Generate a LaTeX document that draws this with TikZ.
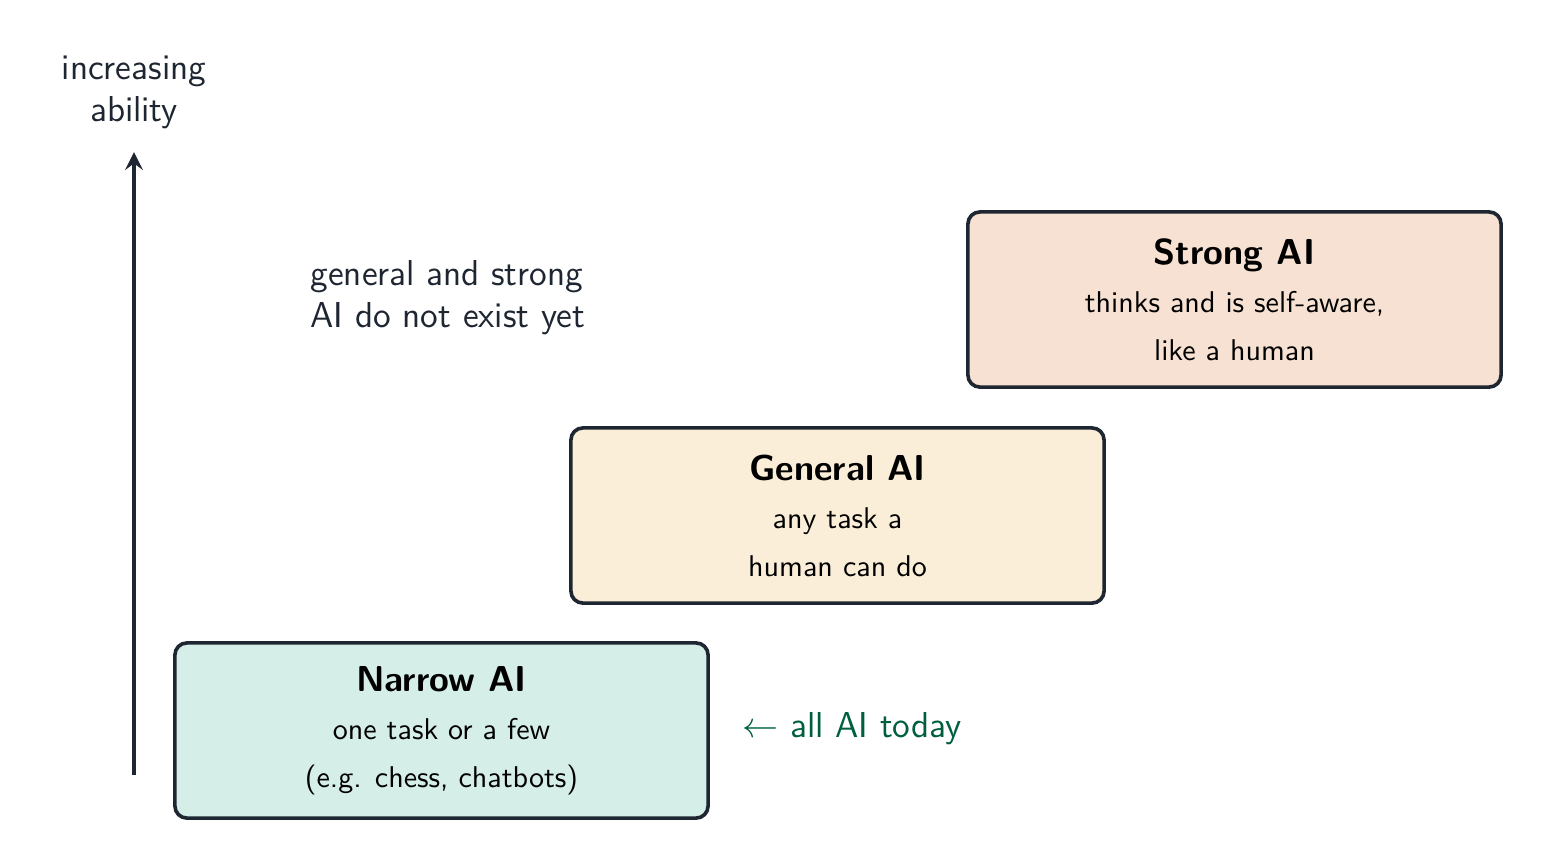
\documentclass[tikz,border=0pt]{standalone}
\usepackage{tikz}
\usetikzlibrary{arrows}
\renewcommand{\familydefault}{\sfdefault}
\definecolor{ink}{RGB}{30,38,50}
\definecolor{narrowfill}{RGB}{214,238,232}
\definecolor{generalfill}{RGB}{250,238,216}
\definecolor{strongfill}{RGB}{246,225,210}
\definecolor{todaygreen}{RGB}{0,95,65}
\tikzset{
  level/.style={draw=ink, line width=1.2pt, rounded corners=4pt, minimum width=6.24cm, minimum height=2.05cm, align=center, text=black},
  note/.style={text=ink, font=\large}
}
\begin{document}
\begin{tikzpicture}[x=0.0117cm, y=-0.0117cm]
  \useasboundingbox (0,0) rectangle (1543,861);

  \node[level, fill=narrowfill ] (narrow)  at (441.5, 730.5) {{\large\bfseries Narrow AI}\\[4pt]one task or a few\\[4pt](e.g. chess, chatbots)};
  \node[level, fill=generalfill] (general) at (837.5, 515.5) {{\large\bfseries General AI}\\[4pt]any task a\\[4pt]human can do};
  \node[level, fill=strongfill ] (strong)  at (1234.5, 299.5) {{\large\bfseries Strong AI}\\[4pt]thinks and is self-aware,\\[4pt]like a human};

  \coordinate (base) at (134, 775);
  \coordinate (top)  at (134, 152);
  \draw[->,>=stealth, ink, line width=1.6pt] (base) -- (top);

  \node[note, align=center] (ability) at (134, 92) {increasing\\ability};
  \node[note, align=left, anchor=west] (notyet) at (300, 298) {general and strong\\AI do not exist yet};
  \node[note, text=todaygreen, anchor=west] (today) at (732, 729) {$\leftarrow$ all AI today};
\end{tikzpicture}
\end{document}
